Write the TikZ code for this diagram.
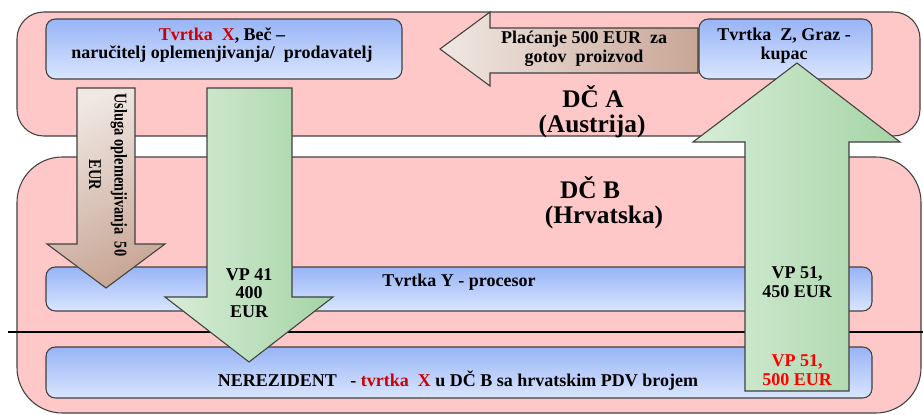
\documentclass[tikz,border=0pt]{standalone}
\usepackage{fontspec}
\setmainfont{Liberation Serif}
\newfontfamily\narrowserif{Liberation Serif}[FakeStretch=0.8]
\definecolor{regionpink}{HTML}{FFC8C8}
\definecolor{firmblue}{HTML}{98B4F6}
\definecolor{firmbluelight}{HTML}{DAE6FF}
\definecolor{flowgreen}{HTML}{A5D4A5}
\definecolor{flowgreenlight}{HTML}{D8EDD8}
\definecolor{paybrown}{HTML}{C8A696}
\definecolor{paybrownlight}{HTML}{F0E8E3}
\definecolor{edgegray}{HTML}{404040}
\colorlet{firmred}{red!80!black}
\tikzset{
  region/.style = {draw=edgegray, line width=0.8pt, fill=regionpink},
  firm/.style = {
    draw=edgegray, line width=0.8pt, rounded corners=7pt,
    top color=firmblue, bottom color=firmbluelight,
    inner sep=0pt
  },
  goods/.style = {
    draw=edgegray, line width=0.8pt,
    left color=flowgreenlight, right color=flowgreen
  },
  payment/.style = {
    draw=edgegray, line width=0.8pt,
    left color=paybrownlight, right color=paybrown
  },
  service/.style = {
    draw=edgegray, line width=0.8pt,
    top color=paybrownlight, bottom color=paybrown, shading angle=25
  },
  txt/.style = {font=\bfseries\fontsize{13.5}{14}\selectfont, align=center, inner sep=0pt},
  country/.style = {font=\bfseries\fontsize{19}{21}\selectfont, inner sep=0pt}
}

\begin{document}
\begin{tikzpicture}[x=0.75pt,y=-0.75pt]
  \useasboundingbox (0,0) rectangle (923,414);
  \draw[region, rounded corners=20pt] (17,12) rectangle (920,136);
  \draw[region, rounded corners=34pt] (17,157) rectangle (921,413);
  \draw[line width=2.2pt] (8,332) -- (923,332);

  \node[firm, minimum width=267pt, minimum height=45pt] (firmX) at (224,49) {};
  \draw[payment] (698,28) -- (490,28) -- (490,12) -- (440,49)
    -- (490,86) -- (490,73) -- (698,73) -- cycle;
  \node[firm, minimum width=129.75pt, minimum height=45pt] (firmZ) at (785.5,49) {};
  \node[firm, minimum width=619.5pt, minimum height=33pt] (firmY) at (459,289) {};
  \node[firm, minimum width=619.5pt, minimum height=38.25pt] (nonres) at (459,372.5) {};

  \draw[service] (77,88) -- (135,88) -- (135,244) -- (165,244)
    -- (106,288) -- (47,244) -- (77,244) -- cycle;
  \draw[goods] (207,88) -- (292,88) -- (292,297) -- (333,297)
    -- (249,362) -- (165,297) -- (207,297) -- cycle;
  \draw[goods] (745,391) -- (849,391) -- (849,142) -- (900,142)
    -- (797,63) -- (693,142) -- (745,142) -- cycle;

  \node[txt] (firmXtext) at (222,45)
    {\textcolor{firmred}{Tvrtka\ \ X}, Beč --\\naručitelj oplemenjivanja/\ \ prodavatelj};
  \node[txt] (paytext) at (584,49) {Plaćanje 500 EUR\ \ za\\gotov\ \ proizvod};
  \node[txt] (firmZtext) at (784,46) {Tvrtka\ \ Z, Graz -\\kupac};
  \node[country] (stateA) at (593,97) {DČ A};
  \node[country] (stateAname) at (592,126) {(Austrija)};
  \node[country] (stateB) at (590,188) {DČ B};
  \node[country] (stateBname) at (604,217) {(Hrvatska)};
  \node[txt, font=\narrowserif\bfseries\fontsize{13.5}{19}\selectfont, rotate=-90]
    (servicetext) at (108,175) {Usluga oplemenjivanja\ \ 50\\EUR};
  \node[txt] (vp41) at (249,293) {VP 41\\400\\EUR};
  \node[txt] (firmYtext) at (459,282) {Tvrtka Y - procesor};
  \node[txt] (vp51) at (797,282) {VP 51,\\450 EUR};
  \node[txt, text=red] (vp51red) at (797,370) {VP 51,\\500 EUR};
  \node[txt] (nonrestext) at (458,381)
    {NEREZIDENT\ \ \ - \textcolor{firmred}{tvrtka\ \ X} u DČ B sa hrvatskim PDV brojem};
\end{tikzpicture}
\end{document}
